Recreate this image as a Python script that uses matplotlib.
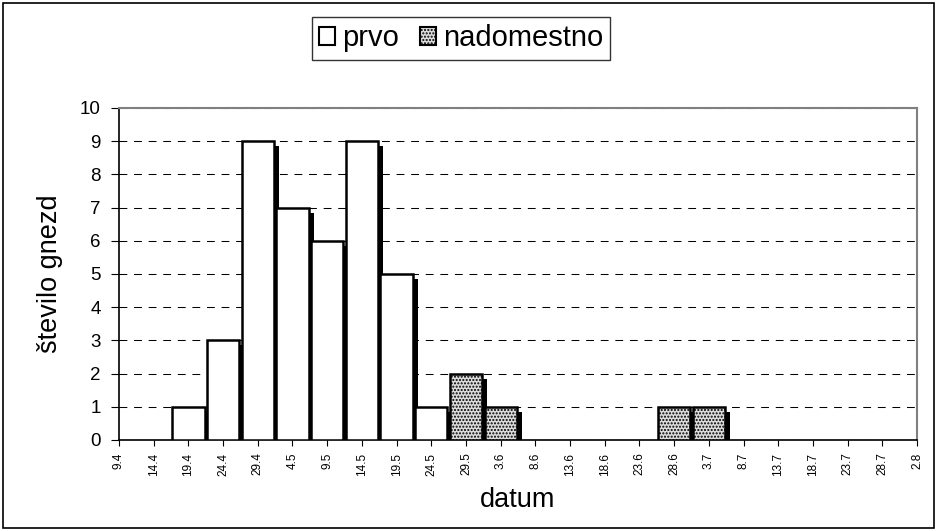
import matplotlib.pyplot as plt
import matplotlib.patheffects as pe
from matplotlib.patches import Rectangle
import numpy as np

plt.rcParams['font.family'] = ['Liberation Sans', 'DejaVu Sans']
plt.rcParams['hatch.color'] = '#8c8c8c'
plt.rcParams['hatch.linewidth'] = 1.0

datumi = ['9.4', '14.4', '19.4', '24.4', '29.4', '4.5', '9.5', '14.5', '19.5',
          '24.5', '29.5', '3.6', '8.6', '13.6', '18.6', '23.6', '28.6', '3.7',
          '8.7', '13.7', '18.7', '23.7', '28.7', '2.8']
prvo = [0, 0, 1, 3, 9, 7, 6, 9, 5, 1, 0, 0, 0, 0, 0, 0, 0, 0, 0, 0, 0, 0, 0, 0]
nadomestno = [0, 0, 0, 0, 0, 0, 0, 0, 0, 0, 2, 1, 0, 0, 0, 0, 1, 1, 0, 0, 0, 0, 0, 0]

fig = plt.figure(figsize=(9.37, 5.31), dpi=100)
ax = fig.add_axes([119 / 937, 1 - 440 / 531, (917 - 119) / 937, (440 - 108) / 531])

x = np.arange(len(datumi))
# excel-like drop shadow on each bar
shadow = [pe.SimplePatchShadow(offset=(3.6, -3.6), shadow_rgbFace='black', alpha=1.0), pe.Normal()]

b1 = ax.bar(x, prvo, width=0.93, color='white', edgecolor='black', linewidth=1.8, zorder=3)
b2 = ax.bar(x, nadomestno, width=0.93, bottom=prvo, color='#dcdcdc', edgecolor='black',
            linewidth=1.8, hatch='.....', zorder=3)
for bars in (b1, b2):
    for b in bars:
        if b.get_height() > 0:
            b.set_path_effects(shadow)
        else:
            b.set_visible(False)

ax.set_xlim(0, len(datumi) - 1)
ax.set_ylim(0, 10)
ax.set_yticks(range(11))
ax.set_xticks(x)
ax.set_xticklabels(datumi, rotation=90, fontsize=8.5)
ax.tick_params(axis='y', labelsize=13.5, direction='out', length=6, pad=7)
ax.tick_params(axis='x', direction='out', length=4, pad=5)
ax.yaxis.grid(True, linestyle=(0, (7.5, 6.5)), color='black', linewidth=0.75, zorder=0)
ax.set_axisbelow(True)
ax.spines['top'].set_color('#808080')
ax.spines['right'].set_color('#808080')
ax.spines['top'].set_linewidth(1.5)
ax.spines['right'].set_linewidth(1.5)
ax.spines['left'].set_linewidth(1.2)
ax.spines['bottom'].set_linewidth(1.2)

ax.set_ylabel('število gnezd', fontsize=19.5, labelpad=12)
ax.set_xlabel('datum', fontsize=19.5, labelpad=8)

leg = fig.legend([b1[2], b2[10]], ['prvo', 'nadomestno'], loc='center',
                 bbox_to_anchor=(461 / 937, 1 - 38.5 / 531), ncol=2, fontsize=21,
                 frameon=True, fancybox=False, edgecolor='black', handlelength=0.55,
                 handleheight=0.55, handletextpad=0.25, columnspacing=0.7,
                 borderpad=0.25, borderaxespad=0)
leg.get_frame().set_linewidth(1.0)
for h in leg.legend_handles:
    h.set_path_effects([])
    h.set_linewidth(1.5)

fig.patches.append(Rectangle((3 / 937, 3 / 531), 931 / 937, 525 / 531, transform=fig.transFigure,
                             fill=False, edgecolor='black', linewidth=1.2))

fig.savefig('out.png', dpi=100)
